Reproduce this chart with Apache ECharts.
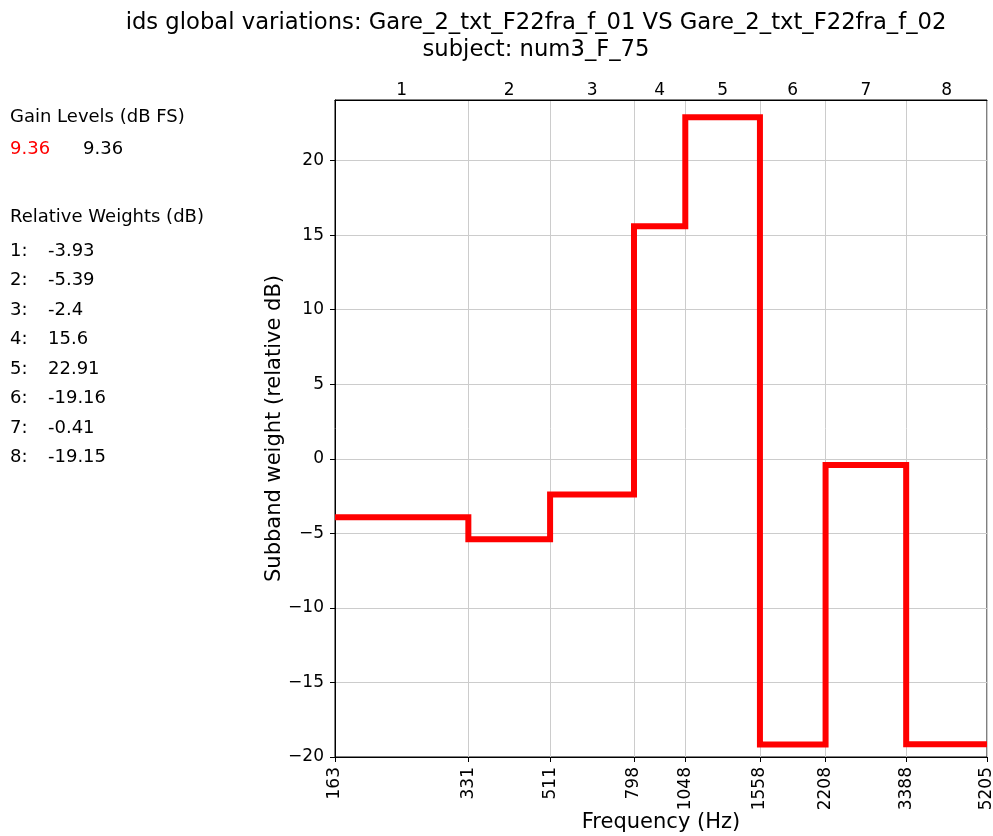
<!DOCTYPE html>
<html>
<head>
<meta charset="utf-8">
<script src="https://cdn.jsdelivr.net/npm/echarts@6/dist/echarts.min.js"></script>
<style>
  html, body { margin: 0; padding: 0; background: #fff; }
  #chart { width: 993px; height: 836px; }
</style>
</head>
<body>
<div id="chart"></div>
<script>
// Subband edges (Hz) and the relative weight of each band (dB)
const bandEdges = [163, 331, 511, 798, 1048, 1558, 2208, 3388, 5205];
const bandLabels = ['1', '2', '3', '4', '5', '6', '7', '8'];
const relWeights = [-3.93, -5.39, -2.4, 15.6, 22.91, -19.16, -0.41, -19.15];
const gainLevels = [9.36, 9.36];
const yTicks = [-20, -15, -10, -5, 0, 5, 10, 15, 20];

const titleLine1 = 'ids global variations: Gare_2_txt_F22fra_f_01 VS Gare_2_txt_F22fra_f_02';
const titleLine2 = 'subject: num3_F_75';

const FONT = '"DejaVu Sans", sans-serif';
const SIDE_FONT = '18px ' + FONT;
const lg = v => Math.log10(v);
const minus = s => String(s).replace('-', '\u2212');

// Step line: each band holds its weight from its lower edge to its upper edge
const stepData = bandEdges.map((f, i) => [lg(f), relWeights[Math.min(i, relWeights.length - 1)]]);

const edgeLogs = bandEdges.map(lg);
const bandCenters = bandEdges.slice(0, -1).map((f, i) => (lg(f) + lg(bandEdges[i + 1])) / 2);

function nearestEdgeLabel(v) {
  let best = 0;
  edgeLogs.forEach((e, i) => { if (Math.abs(e - v) < Math.abs(edgeLogs[best] - v)) best = i; });
  return String(bandEdges[best]);
}
function nearestBandLabel(v) {
  let best = 0;
  bandCenters.forEach((c, i) => { if (Math.abs(c - v) < Math.abs(bandCenters[best] - v)) best = i; });
  return bandLabels[best];
}

// Side panel texts
const sideTexts = [];
sideTexts.push({ type: 'text', left: 10, top: 108, style: { text: 'Gain Levels (dB FS)', font: SIDE_FONT, fill: '#000' } });
sideTexts.push({ type: 'text', left: 10, top: 140, style: { text: String(gainLevels[0]), font: SIDE_FONT, fill: '#ff0000' } });
sideTexts.push({ type: 'text', left: 83, top: 140, style: { text: String(gainLevels[1]), font: SIDE_FONT, fill: '#000' } });
sideTexts.push({ type: 'text', left: 10, top: 208, style: { text: 'Relative Weights (dB)', font: SIDE_FONT, fill: '#000' } });
relWeights.forEach((w, i) => {
  sideTexts.push({ type: 'text', left: 10, top: 242 + i * 29.5, style: { text: bandLabels[i] + ':', font: SIDE_FONT, fill: '#000' } });
  sideTexts.push({ type: 'text', left: 48, top: 242 + i * 29.5, style: { text: String(w), font: SIDE_FONT, fill: '#000' } });
});

const chart = echarts.init(document.getElementById('chart'), null, { renderer: 'canvas' });

chart.setOption({
  animation: false,
  backgroundColor: '#fff',
  title: [
    { text: titleLine1, left: 531, top: 7, textAlign: 'center',
      textStyle: { fontFamily: FONT, fontSize: 22.7, fontWeight: 'normal', color: '#000' } },
    { text: titleLine2, left: 531, top: 34, textAlign: 'center',
      textStyle: { fontFamily: FONT, fontSize: 22.7, fontWeight: 'normal', color: '#000' } }
  ],
  graphic: sideTexts,
  grid: {
    left: 335, right: 6, top: 100, bottom: 79,
    show: true, borderColor: '#000', borderWidth: 1, backgroundColor: 'transparent',
    containLabel: false, outerBoundsMode: 'none'
  },
  xAxis: [
    {
      type: 'value', position: 'bottom',
      min: lg(bandEdges[0]), max: lg(bandEdges[bandEdges.length - 1]),
      name: 'Frequency (Hz)', nameLocation: 'middle', nameGap: 55, nameMoveOverlap: false,
      nameTextStyle: { fontFamily: FONT, fontSize: 21, color: '#000' },
      axisLine: { show: true, onZero: false, lineStyle: { color: '#000', width: 1 } },
      axisTick: { show: true, customValues: edgeLogs, length: 5, inside: false, lineStyle: { color: '#000' } },
      axisLabel: {
        customValues: edgeLogs, rotate: 90, margin: 10,
        fontFamily: FONT, fontSize: 17, color: '#000',
        formatter: v => nearestEdgeLabel(v)
      },
      splitLine: { show: true, lineStyle: { color: '#cccccc', width: 1 } }
    },
    {
      type: 'value', position: 'top',
      min: lg(bandEdges[0]), max: lg(bandEdges[bandEdges.length - 1]),
      axisLine: { show: true, onZero: false, lineStyle: { color: '#000', width: 1 } },
      axisTick: { show: false },
      axisLabel: {
        customValues: bandCenters, margin: 1,
        fontFamily: FONT, fontSize: 17, color: '#000',
        formatter: v => nearestBandLabel(v)
      },
      splitLine: { show: false }
    }
  ],
  yAxis: {
    type: 'value', min: -20, max: 24.06,
    name: 'Subband weight (relative dB)', nameLocation: 'middle', nameGap: 50, nameMoveOverlap: false,
    nameTextStyle: { fontFamily: FONT, fontSize: 21, color: '#000' },
    axisLine: { show: true, onZero: false, lineStyle: { color: '#000', width: 1 } },
    axisTick: { show: true, customValues: yTicks, length: 5, lineStyle: { color: '#000' } },
    axisLabel: {
      customValues: yTicks, margin: 11,
      fontFamily: FONT, fontSize: 17, color: '#000',
      formatter: v => minus(v)
    },
    splitLine: { show: true, lineStyle: { color: '#cccccc', width: 1 } }
  },
  series: [{
    type: 'line',
    xAxisIndex: 0,
    step: 'end',
    data: stepData,
    showSymbol: false,
    symbol: 'none',
    lineStyle: { color: '#ff0000', width: 6, join: 'miter', cap: 'butt' },
    z: 5
  }]
});
</script>
</body>
</html>
